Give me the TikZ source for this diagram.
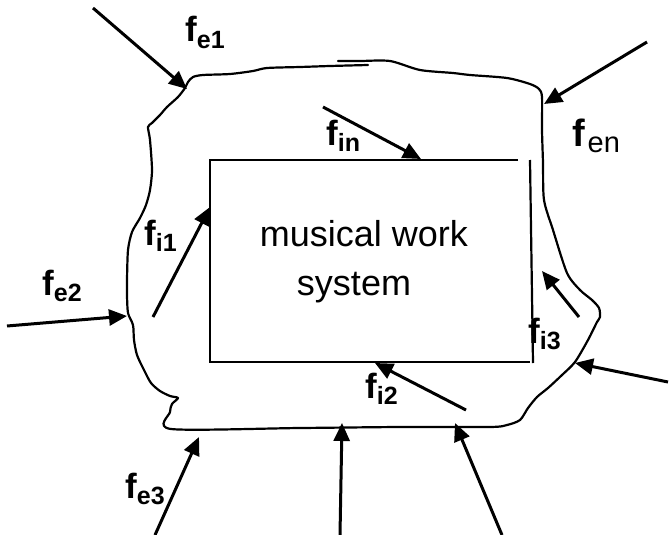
\documentclass[tikz,border=0pt]{standalone}
\usepackage{fontspec}
\setmainfont{Liberation Sans}
\usetikzlibrary{arrows.meta}
\newcommand{\flab}[1]{{\fontsize{35}{35}\selectfont\bfseries f}\raisebox{-6pt}{\fontsize{25}{25}\selectfont\bfseries #1}}
\begin{document}
\begin{tikzpicture}[x=1pt,y=-1pt,
  force/.style={line width=3pt,-{Triangle[length=18pt,width=16pt]}},
  lab/.style={anchor=base west,inner sep=0pt},
  boundary/.style={line width=2.2pt,line join=round,line cap=round},
  rectline/.style={line width=2.2pt},
  systext/.style={anchor=base,inner sep=0pt,font=\fontsize{36}{36}\selectfont}]
\useasboundingbox (0,0) rectangle (669,535);
% system boundary
\draw[boundary] plot[smooth,tension=0.45] coordinates {
 (338,61) (360,61) (390,61) (420,70) (453,73) (470,75) (507,78) (530,84) (539,89) (542,97)
 (542,130) (543,163) (544,200) (553,230) (567,273) (580,290) (592,300) (599,308) (600,317)
 (597,322) (588,340) (575,362) (562,375) (548,388) (537,397) (528,408) (520,420) (507,425)
 (490,427) (400,427) (300,428) (171,429) (170,412) (172,404) (178,398) (170,396) (160,391)
 (151,383) (144,370) (137,355) (134,340) (133,325) (128,313) (127,295) (127,280) (128,250)
 (132,232) (140,218) (146,205) (150,190) (152,170) (150,140) (148,127) (152,123) (160,115)
 (167,107) (178,97) (185,88) (188,82) (193,77) (203,75) (230,74) (253,71) (267,68) (300,67)
 (330,66) (368,65)};
% system rectangle
\draw[rectline] (518,160) -- (210,160) -- (210,362) -- (530,362);
\draw[rectline] (530,160) -- (533,363);
\node[systext] (sysA) at (364,246) {musical work};
\node[systext] (sysB) at (354,295) {system};
% arrow end points
\coordinate (e1t) at (93,8);    \coordinate (e1h) at (187,89);
\coordinate (ent) at (647,42);  \coordinate (enh) at (544,104);
\coordinate (int) at (323,107); \coordinate (inh) at (421,159);
\coordinate (i1t) at (153,317); \coordinate (i1h) at (210,207);
\coordinate (e2t) at (7,326);   \coordinate (e2h) at (127,316);
\coordinate (i3t) at (579,317); \coordinate (i3h) at (542,271);
\coordinate (rt) at (668,382);  \coordinate (rh) at (575,363);
\coordinate (i2t) at (466,410); \coordinate (i2h) at (375,363);
\coordinate (e3t) at (155,535); \coordinate (e3h) at (199,437);
\coordinate (mt) at (340,535);  \coordinate (mh) at (342,423);
\coordinate (bt) at (502,535);  \coordinate (bh) at (455,423);
\foreach \a in {e1,en,in,i1,e2,i3,r,i2,e3,m,b}{\draw[force] (\a t) -- (\a h);}
% labels
\node[lab] (le1) at (185,42) {\flab{e1}};
\node[lab] (len) at (572,146) {{\fontsize{38}{38}\selectfont\bfseries f}\ \raisebox{-6pt}{\fontsize{29}{29}\selectfont en}};
\node[lab] (lin) at (326,145) {\flab{in}};
\node[lab] (li1) at (144,245) {\flab{i1}};
\node[lab] (le2) at (42,295) {\flab{e2}};
\node[lab] (li3) at (528,343) {\flab{i3}};
\node[lab] (li2) at (365,398) {\flab{i2}};
\node[lab] (le3) at (125,498) {\flab{e3}};
\end{tikzpicture}
\end{document}
